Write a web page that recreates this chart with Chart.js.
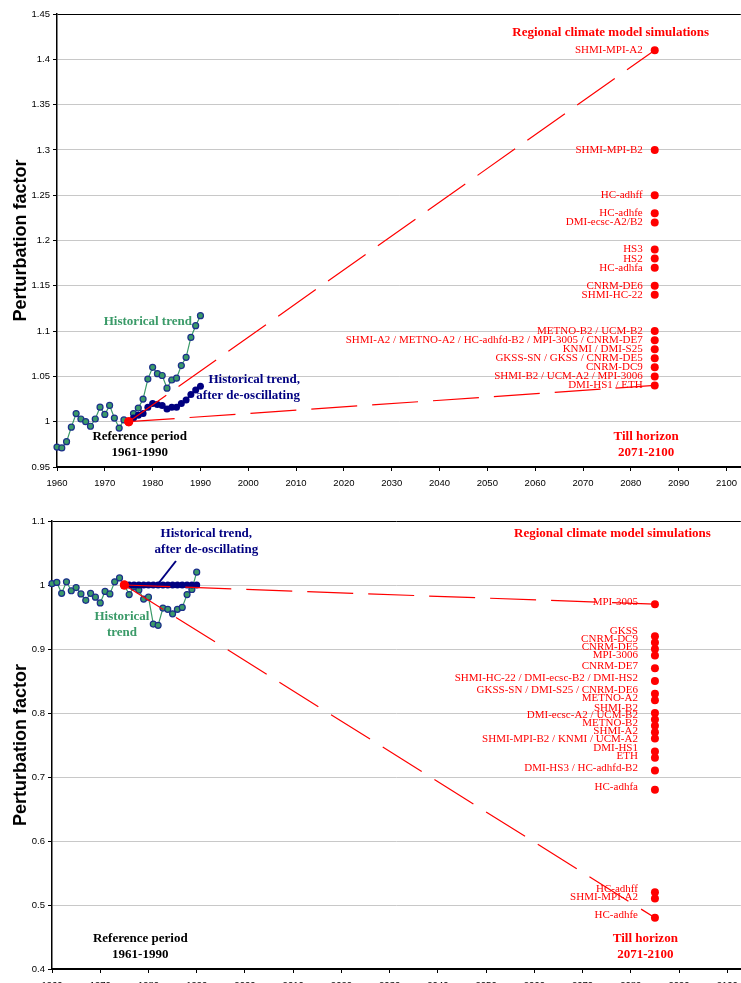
<!DOCTYPE html>
<html>
<head>
<meta charset="utf-8">
<script src="https://cdn.jsdelivr.net/npm/chart.js@4.4.0/dist/chart.umd.min.js"></script>
<style>
  html, body { margin: 0; padding: 0; background: #fff; width: 741px; height: 983px; overflow: hidden; position: relative; }
  canvas { position: absolute; left: 0; }
  #chartTop { top: 0; }
  #chartBottom { top: 500px; }
</style>
</head>
<body>
<canvas id="chartTop" width="746" height="495"></canvas>
<canvas id="chartBottom" width="746" height="497"></canvas>
<script>
// years of the observed series
const years = [1960, 1961, 1962, 1963, 1964, 1965, 1966, 1967, 1968, 1969, 1970,
  1971, 1972, 1973, 1974, 1975, 1976, 1977, 1978, 1979, 1980,
  1981, 1982, 1983, 1984, 1985, 1986, 1987, 1988, 1989, 1990];
const devYears = [1975, 1976, 1977, 1978, 1979, 1980, 1981, 1982,
  1983, 1984, 1985, 1986, 1987, 1988, 1989, 1990];
const refYear = 1975;
const refValue = 1;
const horizonYear = 2085;

// upper chart
const histTop = [0.972, 0.971, 0.978, 0.994, 1.009, 1.003, 1.000, 0.995, 1.003, 1.016, 1.008,
  1.018, 1.004, 0.993, 1.002, 1.000, 1.009, 1.015, 1.025, 1.047, 1.060,
  1.053, 1.051, 1.037, 1.046, 1.048, 1.062, 1.071, 1.093, 1.106, 1.117];
const devTop = [1.000, 1.004, 1.007, 1.009, 1.016, 1.020, 1.019, 1.018,
  1.014, 1.016, 1.016, 1.020, 1.024, 1.030, 1.035, 1.039];
const modelsTop = ['SHMI-MPI-A2', 'SHMI-MPI-B2', 'HC-adhff', 'HC-adhfe', 'DMI-ecsc-A2/B2',
  'HS3', 'HS2', 'HC-adhfa', 'CNRM-DE6', 'SHMI-HC-22', 'METNO-B2 / UCM-B2',
  'SHMI-A2 / METNO-A2 / HC-adhfd-B2 / MPI-3005 / CNRM-DE7', 'KNMI / DMI-S25',
  'GKSS-SN / GKSS / CNRM-DE5', 'CNRM-DC9', 'SHMI-B2 / UCM-A2 / MPI-3006', 'DMI-HS1 / ETH'];
const valuesTop = [1.41, 1.30, 1.25, 1.23, 1.22, 1.19, 1.18, 1.17, 1.15, 1.14, 1.10,
  1.09, 1.08, 1.07, 1.06, 1.05, 1.04];
const trendEndsTop = [1.41, 1.04];
const yTicksTop = { min: 0.95, max: 1.45, step: 0.05 };

// lower chart
const histBottom = [1.002, 1.004, 0.987, 1.005, 0.991, 0.996, 0.986, 0.976, 0.987, 0.981, 0.972,
  0.990, 0.986, 1.005, 1.011, 1.000, 0.985, 0.997, 0.992, 0.978, 0.981,
  0.939, 0.937, 0.964, 0.962, 0.955, 0.962, 0.965, 0.985, 0.993, 1.020];
const devBottom = [1, 1, 1, 1, 1, 1, 1, 1, 1, 1, 1, 1, 1, 1, 1, 1];
const modelsBottom = ['MPI-3005', 'GKSS', 'CNRM-DC9', 'CNRM-DE5', 'MPI-3006', 'CNRM-DE7',
  'SHMI-HC-22 / DMI-ecsc-B2 / DMI-HS2', 'GKSS-SN / DMI-S25 / CNRM-DE6', 'METNO-A2',
  'SHMI-B2', 'DMI-ecsc-A2 / UCM-B2', 'METNO-B2', 'SHMI-A2', 'SHMI-MPI-B2 / KNMI / UCM-A2',
  'DMI-HS1', 'ETH', 'DMI-HS3 / HC-adhfd-B2', 'HC-adhfa', 'HC-adhff', 'SHMI-MPI-A2', 'HC-adhfe'];
const valuesBottom = [0.97, 0.92, 0.91, 0.90, 0.89, 0.87, 0.85, 0.83, 0.82, 0.80, 0.79,
  0.78, 0.77, 0.76, 0.74, 0.73, 0.71, 0.68, 0.52, 0.51, 0.48];
const trendEndsBottom = [0.97, 0.48];
const yTicksBottom = { min: 0.4, max: 1.1, step: 0.1 };

const GREEN = '#3a9a68';
const NAVY = '#000080';
const RED = '#ff0000';
const SANS = '"Liberation Sans", Arial, sans-serif';
const SERIF = '"Liberation Serif", "Times New Roman", serif';

const pts = (xs, ys) => xs.map((x, i) => ({ x: x, y: ys[i] }));

// spread labels that would overlap, keeping each group centred on its dots
function spreadLabels(items, gap) {
  let groups = items.map(it => ({ members: [it], center: it.y }));
  let merged = true;
  while (merged) {
    merged = false;
    for (let i = 0; i < groups.length - 1; i++) {
      const a = groups[i], b = groups[i + 1];
      const aEnd = a.center + (a.members.length - 1) * gap / 2;
      const bStart = b.center - (b.members.length - 1) * gap / 2;
      if (bStart - aEnd < gap) {
        const members = a.members.concat(b.members);
        const center = members.reduce((s, m) => s + m.y, 0) / members.length;
        groups.splice(i, 2, { members: members, center: center });
        merged = true;
        break;
      }
    }
  }
  groups.forEach(g => g.members.forEach((m, k) => {
    m.ly = g.center + (k - (g.members.length - 1) / 2) * gap;
  }));
}

function textPlugin(cfg) {
  return {
    id: 'notes',
    afterDatasetsDraw(chart) {
      const { ctx, scales: { x, y } } = chart;
      ctx.save();
      // model names next to the horizon dots
      const meta = chart.getDatasetMeta(cfg.dotIndex);
      const items = meta.data.map((el, i) => ({ x: el.x, y: el.y, name: cfg.names[i] }));
      items.sort((a, b) => a.y - b.y);
      spreadLabels(items, 7.8);
      ctx.font = '11px ' + SERIF;
      ctx.fillStyle = RED;
      ctx.textAlign = 'right';
      ctx.textBaseline = 'middle';
      items.forEach(it => ctx.fillText(it.name, it.x - cfg.labelGap, it.ly + cfg.labelShift));
      // pointer lines
      (cfg.pointers || []).forEach(p => {
        ctx.strokeStyle = p.color;
        ctx.lineWidth = 2;
        ctx.beginPath();
        ctx.moveTo(x.getPixelForValue(p.from[0]), y.getPixelForValue(p.from[1]));
        ctx.lineTo(x.getPixelForValue(p.to[0]), y.getPixelForValue(p.to[1]));
        ctx.stroke();
      });
      // free text
      ctx.font = 'bold 13px ' + SERIF;
      cfg.notes.forEach(n => {
        ctx.fillStyle = n.color;
        ctx.textAlign = n.align || 'center';
        const px = x.getPixelForValue(n.x);
        const py = y.getPixelForValue(n.y);
        n.lines.forEach((t, i) => ctx.fillText(t, px, py + i * 16));
      });
      ctx.restore();
    }
  };
}

function buildChart(id, c) {
  const trendSets = c.ends.map(v => ({
    data: [{ x: refYear, y: refValue }, { x: horizonYear, y: v }],
    showLine: true,
    borderColor: RED,
    borderWidth: 1.2,
    borderDash: [46, 15],
    pointRadius: [4.5, 0],
    pointBackgroundColor: RED,
    pointBorderWidth: 0,
    clip: 6,
    order: 1
  }));
  const datasets = [
    {
      label: 'Historical trend',
      data: pts(years, c.hist),
      showLine: true,
      borderColor: GREEN,
      borderWidth: 1.2,
      pointRadius: 3,
      pointBackgroundColor: GREEN,
      pointBorderColor: '#1b2f8a',
      pointBorderWidth: 1.2,
      clip: 6,
      order: 4
    },
    {
      label: 'Historical trend, after de-oscillating',
      data: pts(devYears, c.dev),
      showLine: true,
      borderColor: NAVY,
      borderWidth: 2,
      pointRadius: 3.5,
      pointBackgroundColor: NAVY,
      pointBorderColor: NAVY,
      pointBorderWidth: 0,
      clip: 6,
      order: 3
    },
    {
      label: 'Regional climate model simulations',
      data: c.values.map(v => ({ x: horizonYear, y: v })),
      showLine: false,
      pointRadius: 4,
      pointBackgroundColor: RED,
      pointBorderWidth: 0,
      clip: 6,
      order: 0
    }
  ].concat(trendSets);

  const yt = c.yTicks;
  return new Chart(document.getElementById(id), {
    type: 'scatter',
    data: { datasets: datasets },
    options: {
      responsive: false,
      animation: false,
      devicePixelRatio: 1,
      layout: { padding: { top: c.padTop, left: 0, right: 0, bottom: 0 } },
      plugins: { legend: { display: false }, tooltip: { enabled: false } },
      scales: {
        x: {
          type: 'linear',
          min: 1960,
          max: c.xMax,
          afterBuildTicks: s => { s.ticks = s.ticks.filter(t => t.value <= 2100); },
          afterFit: s => { s.height = 28; },
          ticks: { stepSize: 10, includeBounds: false, autoSkip: false, maxRotation: 0, color: '#000', padding: 7,
            font: { family: SANS, size: 9.5 }, callback: v => String(v) },
          grid: { drawOnChartArea: false, tickLength: 4, tickColor: '#000', tickWidth: 1 },
          border: { color: '#000', width: 2 }
        },
        y: {
          min: yt.min,
          max: yt.max,
          afterFit: s => { s.width = c.yWidth; },
          ticks: { stepSize: yt.step, color: '#000', padding: 3, font: { family: SANS, size: 9.5 },
            callback: v => String(+v.toFixed(2)) },
          grid: {
            tickLength: 4,
            tickColor: '#000',
            color: ctx => {
              const v = ctx.tick ? ctx.tick.value : 0;
              if (Math.abs(v - yt.max) < 1e-6) return '#000';
              if (Math.abs(v - yt.min) < 1e-6) return 'rgba(0,0,0,0)';
              return '#c8c8c8';
            },
            lineWidth: 1
          },
          border: { color: '#000', width: 1.5 },
          title: {
            display: true,
            text: 'Perturbation factor',
            color: '#000',
            font: { family: SANS, size: 18, weight: 'bold' },
            padding: { top: 10, bottom: 0 }
          }
        }
      }
    },
    plugins: [textPlugin(c.text)]
  });
}

buildChart('chartTop', {
  hist: histTop, dev: devTop, values: valuesTop, ends: trendEndsTop, yTicks: yTicksTop,
  padTop: 14, yWidth: 57, xMax: 2103,
  text: {
    dotIndex: 2, names: modelsTop, labelGap: 12, labelShift: 0,
    notes: [
      { lines: ['Regional climate model simulations'], x: 2075.8, y: 1.429, color: RED },
      { lines: ['Historical trend'], x: 1979.0, y: 1.110, color: GREEN },
      { lines: ['Historical trend,', 'after de-oscillating'], x: 2010.8, y: 1.046, color: NAVY, align: 'right' },
      { lines: ['Reference period', '1961-1990'], x: 1977.3, y: 0.983, color: '#000' },
      { lines: ['Till horizon', '2071-2100'], x: 2083.2, y: 0.983, color: RED }
    ]
  }
});

buildChart('chartBottom', {
  hist: histBottom, dev: devBottom, values: valuesBottom, ends: trendEndsBottom, yTicks: yTicksBottom,
  padTop: 21, yWidth: 52, xMax: 2102.8,
  text: {
    dotIndex: 2, names: modelsBottom, labelGap: 17, labelShift: -2.5,
    pointers: [{ from: [1981.8, 1.0], to: [1985.7, 1.0375], color: NAVY }],
    notes: [
      { lines: ['Regional climate model simulations'], x: 2076.2, y: 1.080, color: RED },
      { lines: ['Historical trend,', 'after de-oscillating'], x: 1992.0, y: 1.080, color: NAVY },
      { lines: ['Historical', 'trend'], x: 1974.5, y: 0.950, color: GREEN },
      { lines: ['Reference period', '1961-1990'], x: 1978.3, y: 0.447, color: '#000' },
      { lines: ['Till horizon', '2071-2100'], x: 2083.0, y: 0.447, color: RED }
    ]
  }
});
</script>
</body>
</html>
